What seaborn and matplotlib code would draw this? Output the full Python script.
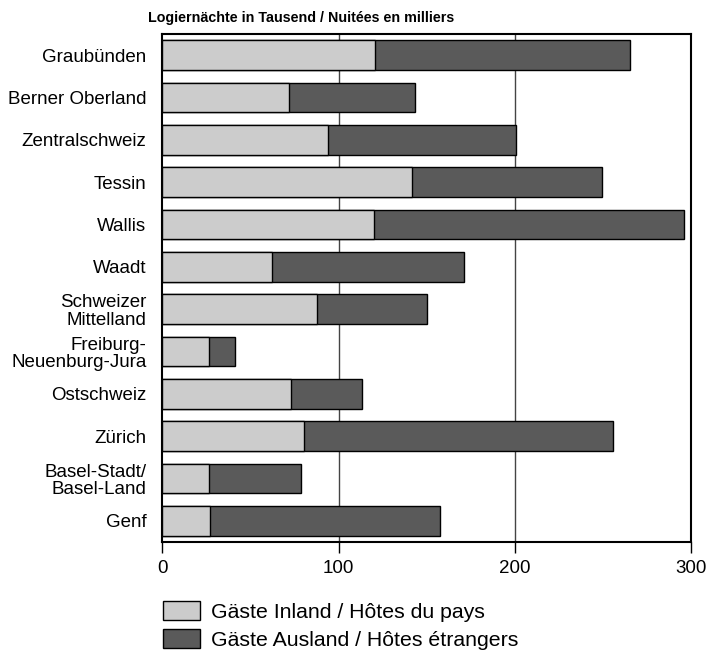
import pandas as pd
import seaborn as sns
from matplotlib import pyplot as plt
from matplotlib import patches

regions = [
    "Graubünden", "Berner Oberland", "Zentralschweiz", "Tessin", "Wallis", "Waadt",
    "Schweizer\nMittelland", "Freiburg-\nNeuenburg-Jura", "Ostschweiz", "Zürich",
    "Basel-Stadt/\nBasel-Land", "Genf",
]
inland = [120.7, 71.7, 93.9, 141.5, 120.3, 62.4, 87.6, 26.6, 72.9, 80.1, 26.4, 26.9]
total = [265.5, 143.1, 200.7, 249.7, 296.2, 171.4, 150.0, 41.0, 113.5, 255.6, 78.5, 157.7]

light = "#cccccc"
dark = "#5a5a5a"

df = pd.DataFrame({"region": regions, "inland": inland, "total": total})

sns.set_style("white")
plt.rcParams["font.family"] = ["Liberation Sans", "DejaVu Sans"]
plt.rcParams["text.color"] = "black"
plt.rcParams["xtick.labelcolor"] = "black"
plt.rcParams["ytick.labelcolor"] = "black"

fig = plt.figure(figsize=(7.08, 6.55), dpi=100)
ax = fig.add_axes([0.2295, 0.1725, 0.7465, 0.7755])

sns.barplot(data=df, y="region", x="total", orient="h", color=dark, width=0.7,
            edgecolor="black", linewidth=1, saturation=1, ax=ax, zorder=2)
sns.barplot(data=df, y="region", x="inland", orient="h", color=light, width=0.7,
            edgecolor="black", linewidth=1, saturation=1, ax=ax, zorder=3)

ax.set_xlim(0, 300)
ax.set_ylim(11.5, -0.5)
ax.set_xticks([0, 100, 200, 300])
ax.set_xlabel("")
ax.set_ylabel("")
for x in (100, 200):
    ax.axvline(x, color="#444444", linewidth=1, zorder=1)

for s in ax.spines.values():
    s.set_visible(True)
    s.set_color("black")
    s.set_linewidth(1.5)

ax.tick_params(axis="x", bottom=True, length=8, width=1, direction="out",
               labelsize=13.5, pad=5, color="black")
ax.tick_params(axis="y", left=False, labelsize=13.5, pad=8)
for lab in ax.get_yticklabels():
    lab.set_linespacing(1.05)

fig.text(0.209, 0.972, "Logiernächte in Tausend / Nuitées en milliers",
         fontsize=10.3, fontweight="bold", ha="left", va="center")

handles = [
    patches.Patch(facecolor=light, edgecolor="black", linewidth=1,
                  label="Gäste Inland / Hôtes du pays"),
    patches.Patch(facecolor=dark, edgecolor="black", linewidth=1,
                  label="Gäste Ausland / Hôtes étrangers"),
]
fig.legend(handles=handles, loc="upper left", bbox_to_anchor=(0.230, 0.082),
           frameon=False, fontsize=15.3, handlelength=1.75, handleheight=1.0,
           handletextpad=0.5, labelspacing=0.33, borderpad=0, borderaxespad=0)

fig.savefig("out.png", dpi=100)
